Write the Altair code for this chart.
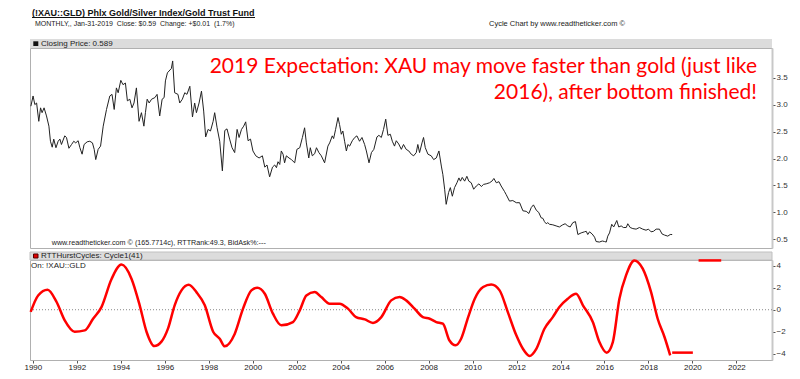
import altair as alt
import pandas as pd

# ---------------- data ----------------
price_year = [
    1989.91, 1990.01, 1990.09, 1990.17, 1990.27, 1990.35, 1990.42, 1990.51, 1990.62, 1990.73,
    1990.80, 1990.88, 1990.95, 1991.05, 1991.15, 1991.23, 1991.30, 1991.45, 1991.53, 1991.64,
    1991.76, 1991.86, 1991.95, 1992.06, 1992.14, 1992.24, 1992.33, 1992.47, 1992.59, 1992.71,
    1992.79, 1992.86, 1992.97, 1993.08, 1993.20, 1993.35, 1993.50, 1993.60, 1993.70, 1993.80,
    1993.88, 1994.00, 1994.10, 1994.21, 1994.30, 1994.41, 1994.51, 1994.60, 1994.71, 1994.83,
    1994.94, 1995.05, 1995.12, 1995.20, 1995.29, 1995.40, 1995.55, 1995.65, 1995.77, 1995.88,
    1995.97, 1996.03, 1996.12, 1996.30, 1996.36, 1996.45, 1996.60, 1996.68, 1996.80, 1996.91,
    1997.01, 1997.14, 1997.26, 1997.36, 1997.44, 1997.56, 1997.67, 1997.77, 1997.86, 1997.97,
    1998.08, 1998.20, 1998.27, 1998.38, 1998.50, 1998.62, 1998.73, 1998.83, 1998.95, 1999.06,
    1999.18, 1999.29, 1999.38, 1999.49, 1999.59, 1999.68, 1999.79, 1999.90, 2000.01, 2000.14,
    2000.29, 2000.44, 2000.55, 2000.65, 2000.77, 2000.90, 2001.00, 2001.08, 2001.15, 2001.23,
    2001.30, 2001.38, 2001.45, 2001.53, 2001.65, 2001.76, 2001.91, 2002.01, 2002.14, 2002.26,
    2002.36, 2002.44, 2002.55, 2002.62, 2002.71, 2002.82, 2002.90, 2003.01, 2003.12, 2003.27,
    2003.42, 2003.50, 2003.62, 2003.68, 2003.77, 2003.88, 2003.95, 2004.03, 2004.10, 2004.18,
    2004.26, 2004.33, 2004.41, 2004.53, 2004.64, 2004.74, 2004.86, 2004.97, 2005.09, 2005.17,
    2005.29, 2005.40, 2005.51, 2005.65, 2005.74, 2005.85, 2005.95, 2006.05, 2006.15, 2006.26,
    2006.35, 2006.45, 2006.53, 2006.64, 2006.76, 2006.86, 2006.98, 2007.10, 2007.21, 2007.32,
    2007.44, 2007.51, 2007.59, 2007.70, 2007.77, 2007.85, 2007.97, 2008.12, 2008.23, 2008.35,
    2008.47, 2008.58, 2008.65, 2008.73, 2008.80, 2008.91, 2008.99, 2009.08, 2009.18, 2009.29,
    2009.38, 2009.45, 2009.53, 2009.64, 2009.74, 2009.83, 2009.94, 2010.05, 2010.17, 2010.29,
    2010.40, 2010.50, 2010.62, 2010.77, 2010.88, 2010.97, 2011.08, 2011.20, 2011.30, 2011.45,
    2011.53, 2011.68, 2011.83, 2011.99, 2012.14, 2012.29, 2012.44, 2012.56, 2012.67, 2012.77,
    2012.90, 2013.01, 2013.12, 2013.20, 2013.27, 2013.35, 2013.42, 2013.50, 2013.65, 2013.80,
    2013.95, 2014.10, 2014.21, 2014.33, 2014.44, 2014.56, 2014.68, 2014.79, 2014.94, 2015.09,
    2015.17, 2015.24, 2015.32, 2015.44, 2015.55, 2015.62, 2015.77, 2015.90, 2016.00, 2016.08,
    2016.15, 2016.23, 2016.33, 2016.42, 2016.56, 2016.65, 2016.76, 2016.86, 2016.99, 2017.06,
    2017.17, 2017.29, 2017.44, 2017.59, 2017.74, 2017.89, 2018.00, 2018.12, 2018.23, 2018.35,
    2018.50, 2018.62, 2018.73, 2018.88, 2018.99, 2019.08,
]
price_value = [
    2.97, 3.16, 3.00, 3.03, 2.69, 2.94, 2.85, 2.94, 2.79, 2.60,
    2.32, 2.21, 2.36, 2.20, 2.32, 2.36, 2.26, 2.42, 2.39, 2.19,
    2.26, 2.32, 2.29, 2.33, 2.20, 2.08, 2.26, 2.31, 2.32, 2.29,
    2.17, 1.98, 2.17, 2.23, 2.60, 2.91, 3.16, 3.19, 2.91, 3.31,
    3.22, 3.45, 3.37, 3.40, 3.07, 3.10, 2.94, 3.03, 3.31, 2.69,
    2.85, 2.60, 2.85, 3.10, 3.03, 3.10, 3.13, 3.19, 2.79, 3.10,
    3.13, 3.44, 3.59, 3.67, 3.81, 3.22, 3.19, 3.03, 3.10, 3.22,
    3.19, 3.34, 2.77, 3.03, 2.85, 3.03, 3.25, 2.88, 2.40, 2.54,
    2.51, 2.69, 2.85, 2.57, 2.32, 1.77, 2.52, 2.55, 2.36, 2.20,
    2.11, 2.54, 2.39, 2.54, 2.60, 2.68, 2.33, 2.36, 2.14, 2.05,
    2.01, 2.05, 1.84, 1.88, 1.66, 1.84, 1.88, 1.83, 1.94, 1.89,
    2.14, 2.08, 1.92, 2.05, 2.01, 1.98, 1.92, 2.17, 2.20, 2.39,
    2.57, 2.29, 2.01, 2.20, 2.05, 2.09, 2.20, 2.11, 2.05, 1.92,
    2.23, 2.29, 2.42, 2.37, 2.54, 2.76, 2.63, 2.45, 2.51, 2.32,
    2.14, 2.26, 2.23, 2.33, 2.39, 2.42, 2.32, 2.39, 2.26, 2.14,
    1.92, 2.11, 2.17, 2.40, 2.43, 2.39, 2.54, 2.73, 2.43, 2.45,
    2.32, 2.23, 2.33, 2.27, 2.17, 2.26, 2.17, 2.14, 2.08, 2.05,
    2.11, 2.26, 2.11, 2.29, 2.39, 2.20, 2.08, 2.05, 1.98, 2.01,
    2.14, 1.86, 1.70, 1.43, 1.15, 1.37, 1.46, 1.30, 1.46, 1.55,
    1.64, 1.58, 1.65, 1.58, 1.67, 1.58, 1.55, 1.43, 1.49, 1.53,
    1.48, 1.52, 1.53, 1.55, 1.58, 1.63, 1.55, 1.57, 1.49, 1.39,
    1.33, 1.21, 1.22, 1.18, 1.18, 1.03, 1.02, 0.98, 1.09, 1.14,
    1.04, 1.00, 0.90, 0.89, 0.83, 0.79, 0.81, 0.78, 0.77, 0.75,
    0.73, 0.77, 0.79, 0.75, 0.73, 0.81, 0.83, 0.59, 0.62, 0.64,
    0.65, 0.59, 0.64, 0.60, 0.54, 0.46, 0.45, 0.47, 0.46, 0.45,
    0.56, 0.62, 0.78, 0.73, 0.85, 0.73, 0.75, 0.72, 0.72, 0.79,
    0.72, 0.70, 0.69, 0.72, 0.69, 0.67, 0.69, 0.64, 0.65, 0.69,
    0.69, 0.60, 0.58, 0.56, 0.59, 0.59,
]

cycle_year = [
    1989.90, 1990.24, 1990.67, 1991.08, 1991.45, 1991.90, 1992.36, 1992.74, 1993.12, 1993.58,
    1994.03, 1994.49, 1994.86, 1995.17, 1995.52, 1995.85, 1996.15, 1996.45, 1996.76, 1997.09,
    1997.44, 1997.82, 1998.20, 1998.50, 1998.73, 1999.18, 1999.56, 1999.94, 2000.21, 2000.55,
    2000.92, 2001.30, 2001.83, 2002.14, 2002.44, 2002.82, 2003.12, 2003.50, 2003.95, 2004.33,
    2004.70, 2005.10, 2005.47, 2005.85, 2006.30, 2006.68, 2006.98, 2007.36, 2007.74, 2008.05,
    2008.35, 2008.65, 2008.95, 2009.23, 2009.48, 2009.80, 2010.10, 2010.48, 2010.85, 2011.23,
    2011.60, 2011.99, 2012.29, 2012.59, 2012.90, 2013.27, 2013.65, 2013.95, 2014.33, 2014.71,
    2015.02, 2015.47, 2015.77, 2016.10, 2016.38, 2016.68, 2016.98, 2017.36, 2017.74, 2018.12,
    2018.42, 2018.73, 2018.99,
]
cycle_value = [
    -0.20, 1.30, 1.82, 0.70, -0.97, -2.00, -1.88, -0.82, 0.24, 2.80,
    4.10, 2.80, 0.40, -2.00, -3.30, -2.90, -1.70, 0.40, 1.76, 2.27,
    1.60, 0.40, -2.00, -2.64, -3.33, -2.20, 0.10, 1.76, 2.00, 1.45,
    -0.36, -1.42, -1.12, -0.06, 1.30, 1.60, 1.15, 0.55, 0.55, 0.10,
    -0.67, -0.88, -1.20, -0.67, 0.85, 1.15, 0.85, 0.10, -0.67, -0.82,
    -1.12, -1.27, -2.80, -3.24, -2.64, -0.67, 1.00, 2.06, 2.30, 1.76,
    -0.20, -2.33, -3.55, -4.20, -3.55, -1.73, -0.67, 0.24, 1.00, 1.45,
    0.40, -1.12, -2.94, -3.90, -2.94, 1.00, 3.12, 4.48, 3.73, 1.60,
    -0.82, -2.48, -4.15,
]

proj_low_year = [2019.08, 2020.02]
proj_low_value = [-3.9, -3.9]
proj_high_year = [2020.28, 2021.31]
proj_high_value = [4.48, 4.48]

x_ticks = list(range(1990, 2023, 2))
price_ticks = [0.5, 1.0, 1.5, 2.0, 2.5, 3.0, 3.5]
cycle_ticks = [-4, -2, 0, 2, 4]

title_text = "(!XAU::GLD) Phlx Gold/Silver Index/Gold Trust Fund"
subtitle_text = "MONTHLY,, Jan-31-2019\u00a0 Close: $0.59\u00a0 Change: +$0.01\u00a0 (1.7%)"
credit_text = "Cycle Chart by www.readtheticker.com \u00a9"
price_label = "Closing Price: 0.589"
footer_text = "www.readtheticker.com \u00a9 (165.7714c), RTTRank:49.3, BidAsk%:---"
cycle_label = "RTTHurstCycles: Cycle1(41)"
on_label = "On: !XAU::GLD"
note_line1 = "2019 Expectation: XAU may move faster than gold (just like"
note_line2 = "2016), after bottom finished!"

# ---------------- layout ----------------
W = 742
HA = 200
HB = 100
XDOM = [1989.87, 2023.62]
YDOM_A = [0.34, 4.05]
YDOM_B = [-4.57, 4.52]
FONT = "Liberation Sans"

one = pd.DataFrame({"k": [0]})
price_df = pd.DataFrame({"year": price_year, "value": price_value})
cycle_df = pd.DataFrame({"year": cycle_year, "value": cycle_value})
low_df = pd.DataFrame({"year": proj_low_year, "value": proj_low_value})
high_df = pd.DataFrame({"year": proj_high_year, "value": proj_high_value})
zero_df = pd.DataFrame({"value": [0]})


def dtext(txt, x, y, size=8, color="#222222", weight="normal", align="left",
          baseline="middle", font=FONT):
    return alt.Chart(one).mark_text(
        text=txt, fontSize=size, color=color, fontWeight=weight, align=align,
        baseline=baseline, font=font
    ).encode(x=alt.value(x), y=alt.value(y))


def drect(x, x2, y, y2, fill, stroke=None):
    kw = dict(fill=fill)
    if stroke:
        kw.update(stroke=stroke, strokeWidth=1)
    return alt.Chart(one).mark_rect(**kw).encode(
        x=alt.value(x), x2=alt.value(x2), y=alt.value(y), y2=alt.value(y2))


def drule(x, x2, y, color="#222222", width=1):
    return alt.Chart(one).mark_rule(color=color, strokeWidth=width).encode(
        x=alt.value(x), x2=alt.value(x2), y=alt.value(y))


yaxis_common = dict(orient="right", title=None, grid=False, domainColor="#c8c8c8",
                    domainWidth=2, tickColor="#555555", tickSize=3, labelFontSize=8,
                    labelColor="#333333", labelPadding=1, labelFont=FONT)

# ---------------- top panel ----------------
xA = alt.X("year:Q", scale=alt.Scale(domain=XDOM, nice=False, zero=False), axis=None)
yA = alt.Y("value:Q", scale=alt.Scale(domain=YDOM_A, nice=False, zero=False),
           axis=alt.Axis(values=price_ticks, format=".1f", **yaxis_common))

price_line = alt.Chart(price_df).mark_line(color="#222222", strokeWidth=1).encode(x=xA, y=yA)

top = alt.layer(
    drect(0, W, -9, 0, "#dcdcdc"),
    drect(3.3, 8.3, -6.7, -2, "#111111"),
    dtext(price_label, 11, -4.3),
    dtext(title_text, 2, -32, size=9, weight="bold", baseline="alphabetic", color="#111111"),
    drule(2, 225, -30.5, color="#111111"),
    dtext(subtitle_text, 5, -23.7, size=7),
    dtext(credit_text, 459, -23.7, size=7.5),
    dtext(footer_text, 21.7, 195.3, size=7.2),
    dtext(note_line1, 727, 25.3, size=21, color="#ff0000", align="right",
          baseline="alphabetic", font="Lato"),
    dtext(note_line2, 727, 51.3, size=21, color="#ff0000", align="right",
          baseline="alphabetic", font="Lato"),
    price_line,
).properties(width=W, height=HA)

# ---------------- bottom panel ----------------
xB = alt.X("year:Q", scale=alt.Scale(domain=XDOM, nice=False, zero=False),
           axis=alt.Axis(values=x_ticks, format="d", title=None, grid=False,
                         domainColor="#b0b0b0", tickColor="#555555", tickSize=3,
                         labelFontSize=8, labelPadding=0, labelColor="#222222",
                         labelFont=FONT, labelFlush=False))
yB = alt.Y("value:Q", scale=alt.Scale(domain=YDOM_B, nice=False, zero=False),
           axis=alt.Axis(values=cycle_ticks, format="d", **yaxis_common))

zero_rule = alt.Chart(zero_df).mark_rule(color="#888888", strokeDash=[1, 2], strokeWidth=1).encode(y=yB)
cycle_line = alt.Chart(cycle_df).mark_line(color="#ff0000", strokeWidth=2.5,
                                           interpolate="monotone").encode(x=xB, y=yB)
low_line = alt.Chart(low_df).mark_line(color="#ff0000", strokeWidth=2.5).encode(x=xB, y=yB)
high_line = alt.Chart(high_df).mark_line(color="#ff0000", strokeWidth=2.5).encode(x=xB, y=yB)

bottom = alt.layer(
    drect(0, W, -8, 0, "#dcdcdc", stroke="#c0c0c0"),
    drect(3.5, 8, -6, -2, "#e00000", stroke="#550000"),
    dtext(cycle_label, 11, -3.8),
    dtext(on_label, 1, 6.3),
    zero_rule,
    cycle_line,
    low_line,
    high_line,
).properties(width=W, height=HB)

chart = alt.vconcat(top, bottom, spacing=2).properties(
    padding={"left": 15, "top": 0, "right": 0, "bottom": 0},
    background="white",
).configure_view(stroke="#b0b0b0", strokeWidth=1)

chart.save("out.html", embed_options={"renderer": "svg", "actions": False})
